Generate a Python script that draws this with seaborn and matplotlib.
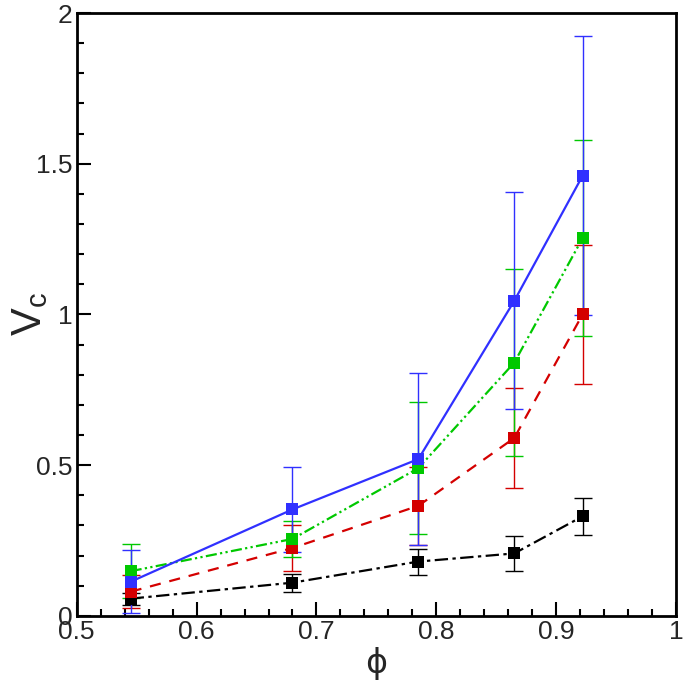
import matplotlib
matplotlib.use("Agg")
import matplotlib.pyplot as plt
import seaborn as sns
import pandas as pd
import numpy as np
from matplotlib.ticker import MultipleLocator

phi = [0.545, 0.68, 0.785, 0.865, 0.922]

black_v = [0.057, 0.11, 0.18, 0.207, 0.33]
black_e = [0.02, 0.03, 0.043, 0.057, 0.062]
red_v = [0.08, 0.225, 0.365, 0.59, 1.0]
red_e = [0.055, 0.075, 0.13, 0.167, 0.23]
green_v = [0.148, 0.255, 0.49, 0.84, 1.253]
green_e = [0.09, 0.06, 0.22, 0.31, 0.325]
blue_v = [0.113, 0.353, 0.52, 1.045, 1.46]
blue_e = [0.105, 0.14, 0.285, 0.36, 0.463]

series = ["black", "red", "green", "blue"]
values = [black_v, red_v, green_v, blue_v]
errors = [black_e, red_e, green_e, blue_e]
colors = {"black": "#000000", "red": "#d40000", "green": "#00c800", "blue": "#3030ff"}
dashes = {"black": (6, 2, 1.5, 2), "red": (5, 4), "green": (5, 1.5, 1, 1.5, 1, 1.5), "blue": ""}

rows = []
for s, v, e in zip(series, values, errors):
    for x, y, err in zip(phi, v, e):
        rows.append({"phi": x, "Vc": y, "err": err, "series": s})
df = pd.DataFrame(rows)

sns.set_style("white")
plt.rcParams['font.family'] = ['Liberation Sans', 'DejaVu Sans']

fig = plt.figure(figsize=(6.85, 6.85), dpi=100)
ax = fig.add_axes([0.112, 0.101, 0.875, 0.880])

for s in series:
    d = df[df.series == s]
    ax.errorbar(d.phi, d.Vc, yerr=d.err, fmt="none", ecolor=colors[s],
                elinewidth=1.0, capsize=6.5, capthick=1.0, zorder=2)

sns.lineplot(data=df, x="phi", y="Vc", hue="series", style="series",
             palette=colors, dashes=dashes, markers={s: "s" for s in series},
             markersize=9, markeredgewidth=0, linewidth=1.6, legend=False,
             ax=ax, zorder=3, hue_order=series, style_order=series)

ax.set_xlim(0.5, 1.0)
ax.set_ylim(0, 2)
ax.xaxis.set_major_locator(MultipleLocator(0.1))
ax.xaxis.set_minor_locator(MultipleLocator(0.02))
ax.yaxis.set_major_locator(MultipleLocator(0.5))
ax.yaxis.set_minor_locator(MultipleLocator(0.1))
ax.set_xticks([0.5, 0.6, 0.7, 0.8, 0.9, 1.0])
ax.set_xticklabels(["0.5", "0.6", "0.7", "0.8", "0.9", "1"])
ax.set_yticks([0, 0.5, 1, 1.5, 2])
ax.set_yticklabels(["0", "0.5", "1", "1.5", "2"])
ax.tick_params(which="both", direction="in", top=False, right=False,
               bottom=True, left=True, width=1.5, color="black")
ax.tick_params(which="major", length=10, labelsize=19, pad=3)
ax.tick_params(which="minor", length=5)
for sp in ax.spines.values():
    sp.set_color("black")
    sp.set_linewidth(2)

ax.set_xlabel("ϕ", fontsize=24, labelpad=2, family=['DejaVu Sans'])
ax.set_ylabel("V$_\\mathregular{c}$", fontsize=30, labelpad=2)
ax.yaxis.set_label_coords(-0.045, 0.5)

fig.savefig("out.png", dpi=100)
